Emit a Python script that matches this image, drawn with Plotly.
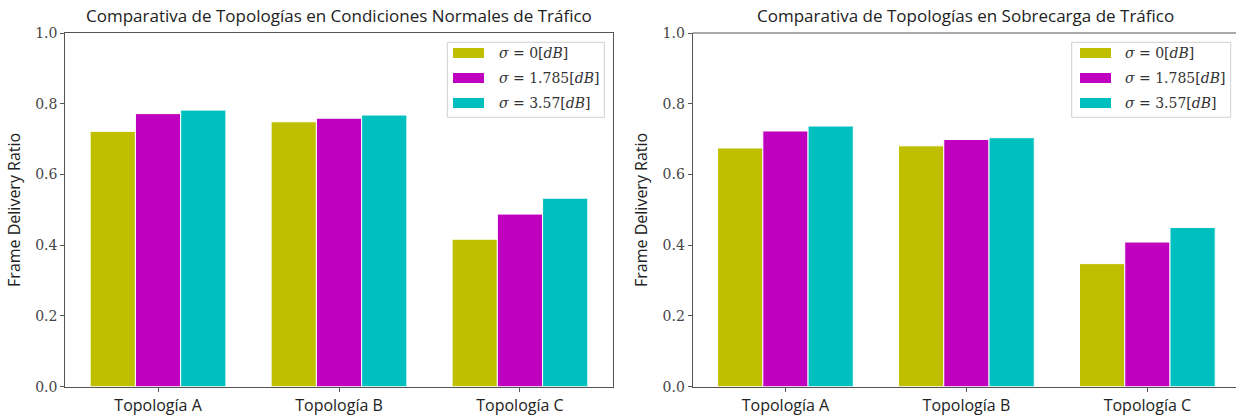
import plotly.graph_objects as go

# Data
topologias = ["Topología A", "Topología B", "Topología C"]
sigmas = ["0", "1.785", "3.57"]
normal_sigma0 = [0.722, 0.749, 0.417]
normal_sigma1 = [0.772, 0.759, 0.488]
normal_sigma2 = [0.782, 0.768, 0.533]
sobre_sigma0 = [0.675, 0.681, 0.348]
sobre_sigma1 = [0.723, 0.699, 0.409]
sobre_sigma2 = [0.737, 0.704, 0.450]
titulos = ["Comparativa de Topologías en Condiciones Normales de Tráfico",
           "Comparativa de Topologías en Sobrecarga de Tráfico"]

colores = ["#bfbf00", "#bf00bf", "#00bfbf"]
W, H = 1236, 417
SANS = "'Open Sans', Lato, sans-serif"
SERIF = "'DejaVu Serif', 'Liberation Serif', serif"
AX = "#555555"


def px(x):
    return x / W


def py(y):
    return 1 - y / H


fig = go.Figure()
pos = [0, 1, 2]
series = [
    ([normal_sigma0, normal_sigma1, normal_sigma2], "x", "y"),
    ([sobre_sigma0, sobre_sigma1, sobre_sigma2], "x2", "y2"),
]
for vals, xa, ya in series:
    for i, v in enumerate(vals):
        fig.add_trace(go.Bar(
            x=pos, y=v, xaxis=xa, yaxis=ya, showlegend=False,
            marker=dict(color=colores[i], line=dict(color="white", width=1)),
            offsetgroup=str(i),
        ))

ydom = [30.3 / H, 1 - 33.0 / H]
axis_common = dict(showline=True, linecolor=AX, linewidth=1.2, ticks="outside",
                   ticklen=4, tickcolor=AX, showgrid=False, zeroline=False,
                   automargin=False)
ytitle = dict(text="Frame Delivery Ratio", standoff=10,
              font=dict(family=SANS, size=16, color="#222"))
fig.update_layout(
    width=W, height=H, margin=dict(l=0, r=0, t=0, b=0),
    plot_bgcolor="white", paper_bgcolor="white",
    barmode="group", bargap=0.25, bargroupgap=0,
    xaxis=dict(domain=[px(65.3), px(612.7)], range=[-0.5125, 2.5125],
               tickvals=pos, ticktext=topologias, mirror=True,
               tickfont=dict(family=SANS, size=16, color="#222"), **axis_common),
    yaxis=dict(domain=ydom, range=[0, 1], tickvals=[0, 0.2, 0.4, 0.6, 0.8, 1.0],
               tickformat=".1f", mirror=True,
               tickfont=dict(family=SERIF, size=14, color="#444"),
               title=ytitle, **axis_common),
    xaxis2=dict(domain=[px(692.7), 1.0], range=[-0.5125, 2.4898], anchor="y2",
                tickvals=pos, ticktext=topologias,
                tickfont=dict(family=SANS, size=16, color="#222"), **axis_common),
    yaxis2=dict(domain=ydom, range=[0, 1], anchor="x2",
                tickvals=[0, 0.2, 0.4, 0.6, 0.8, 1.0], tickformat=".1f",
                tickfont=dict(family=SERIF, size=14, color="#444"),
                title=ytitle, **axis_common),
)

# Top spine of the second panel (its right edge runs off the figure)
fig.add_shape(type="line", xref="x2 domain", yref="y2 domain",
              x0=0, x1=1, y0=1, y1=1, line=dict(color=AX, width=1.2))

shapes = []
annots = []
# Titles
for centro, t in zip([339.0, 965.0], titulos):
    annots.append(dict(x=px(centro), y=py(16), xref="paper", yref="paper",
                       text=t, showarrow=False, xanchor="center", yanchor="middle",
                       font=dict(family=SANS, size=17, color="#222")))

# Legends
for box_x0, box_x1, patch_x0, text_x in [(447.3, 604.3, 453, 497),
                                         (1071.7, 1230.7, 1080, 1123)]:
    shapes.append(dict(type="rect", xref="paper", yref="paper",
                       x0=px(box_x0), x1=px(box_x1), y0=py(117.3), y1=py(42.3),
                       line=dict(color="#d0d0d0", width=1), fillcolor="white",
                       layer="above"))
    for k, (s, c) in enumerate(zip(sigmas, colores)):
        yc = 53 + 25 * k
        shapes.append(dict(type="rect", xref="paper", yref="paper",
                           x0=px(patch_x0), x1=px(patch_x0 + 31),
                           y0=py(yc + 5), y1=py(yc - 5),
                           line=dict(width=0), fillcolor=c, layer="above"))
        annots.append(dict(x=px(text_x), y=py(yc), xref="paper", yref="paper",
                           text=f"<i>σ</i> = {s}[<i>dB</i>]", showarrow=False,
                           xanchor="left", yanchor="middle",
                           font=dict(family=SERIF, size=14, color="#333")))

for s in shapes:
    fig.add_shape(**s)
fig.update_layout(annotations=annots)

fig.write_html("out.html")
